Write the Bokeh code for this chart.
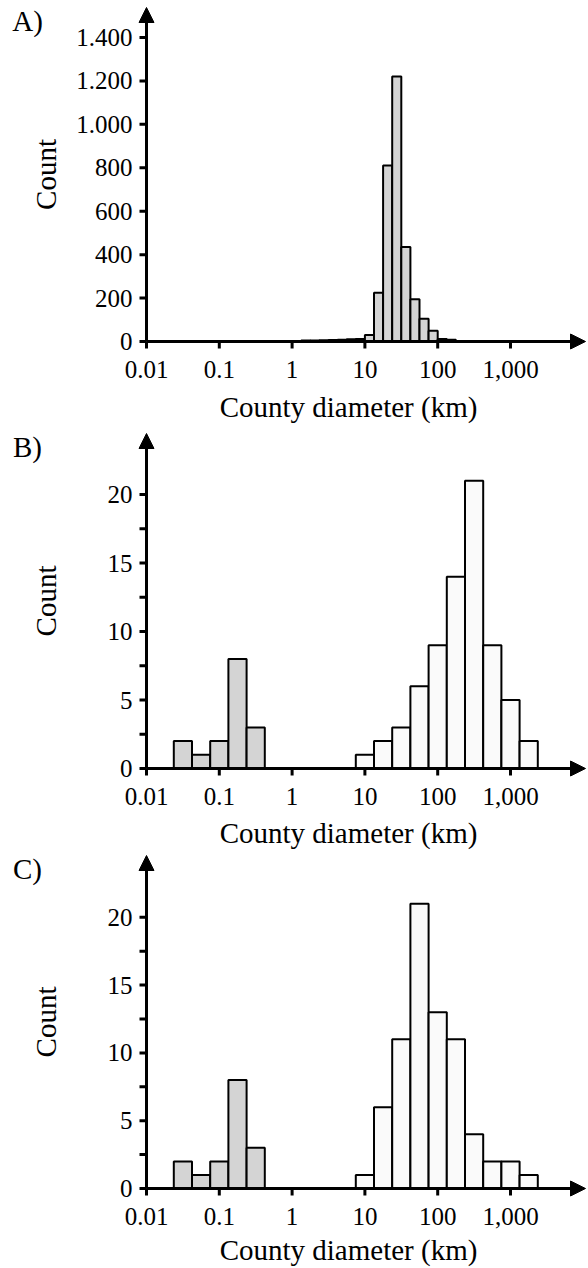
import math
from bokeh.plotting import figure
from bokeh.layouts import column
from bokeh.models import Range1d, Arrow, NormalHead
from bokeh.core.properties import value
from bokeh.embed import file_html
from bokeh.resources import INLINE

# ---------------- data ----------------
# bin edges given as log10(diameter in km)
a_log_edges = [0.125, 0.25, 0.375, 0.5, 0.625, 0.75, 0.875, 1.0, 1.125, 1.25,
               1.375, 1.5, 1.625, 1.75, 1.875, 2.0, 2.125, 2.25]
a_counts = [5, 5, 6, 7, 8, 10, 12, 30, 225, 810, 1220, 435, 195, 105, 50, 12, 8]

b_small_log_edges = [-1.625, -1.375, -1.125, -0.875, -0.625, -0.375]
b_small_counts = [2, 1, 2, 8, 3]
b_large_log_edges = [0.875, 1.125, 1.375, 1.625, 1.875, 2.125, 2.375, 2.625,
                     2.875, 3.125, 3.375]
b_large_counts = [1, 2, 3, 6, 9, 14, 21, 9, 5, 2]

c_small_log_edges = [-1.625, -1.375, -1.125, -0.875, -0.625, -0.375]
c_small_counts = [2, 1, 2, 8, 3]
c_large_log_edges = [0.875, 1.125, 1.375, 1.625, 1.875, 2.125, 2.375, 2.625,
                     2.875, 3.125, 3.375]
c_large_counts = [1, 6, 11, 21, 13, 11, 4, 2, 2, 1]

x_ticks = [0.01, 0.1, 1, 10, 100, 1000]
x_tick_labels = ["0.01", "0.1", "1", "10", "100", "1,000"]
a_y_ticks = [0, 200, 400, 600, 800, 1000, 1200, 1400]
a_y_tick_labels = ["0", "200", "400", "600", "800", "1.000", "1.200", "1.400"]
bc_y_ticks = [0, 5, 10, 15, 20]
bc_y_tick_labels = ["0", "5", "10", "15", "20"]
bc_y_minor = [2.5, 7.5, 12.5, 17.5]

x_title = "County diameter (km)"
y_title = "Count"

# ---------------- style / layout ----------------
GRAY = "#d4d4d4"
WHITE = "#fafafa"
FONT = "Liberation Serif"
W = 588
X0_PX = 146.0     # pixel position of the 0.01 tick (y axis)
DEC_PX = 72.8     # pixels per decade
X_TIP_PX = 585.0  # pixel position of the x arrow tip
X_ORIGIN = 0.01


def make_panel(letter, H, axis_px, tip_px, ppu, y_ticks, y_labels, y_minor,
               bar_sets, title_off):
    x_start = 10 ** (math.log10(X_ORIGIN) - X0_PX / DEC_PX)
    x_end = 10 ** (math.log10(X_ORIGIN) + (W - X0_PX) / DEC_PX)
    x_tip = 10 ** (math.log10(X_ORIGIN) + (X_TIP_PX - X0_PX) / DEC_PX)
    y_start = -(H - axis_px) / ppu
    y_end = axis_px / ppu
    y_tip = (axis_px - tip_px) / ppu

    p = figure(width=W, height=H, x_axis_type="log",
               x_axis_location=None, y_axis_location=None,
               x_range=Range1d(x_start, x_end), y_range=Range1d(y_start, y_end),
               min_border=0, output_backend="svg", toolbar_location=None,
               title=None)
    p.outline_line_color = None
    p.xgrid.visible = False
    p.ygrid.visible = False
    p.background_fill_color = "white"
    p.border_fill_color = "white"

    # bars
    for edges, counts, color in bar_sets:
        lefts = [10 ** e for e in edges[:-1]]
        rights = [10 ** e for e in edges[1:]]
        p.quad(left=lefts, right=rights, bottom=0, top=counts,
               fill_color=color, line_color="black", line_width=2)

    # axis lines with arrow heads
    p.add_layout(Arrow(x_start=X_ORIGIN, y_start=0, x_end=x_tip, y_end=0,
                       line_width=3, line_color="black",
                       end=NormalHead(size=15, fill_color="black",
                                      line_color="black", line_width=1)))
    p.add_layout(Arrow(x_start=X_ORIGIN, y_start=0, x_end=X_ORIGIN, y_end=y_tip,
                       line_width=3, line_color="black",
                       end=NormalHead(size=15, fill_color="black",
                                      line_color="black", line_width=1)))

    # x ticks + labels
    p.ray(x=x_ticks, y=[0] * len(x_ticks), length=7, length_units="screen",
          angle=-math.pi / 2, line_width=3, line_color="black")
    p.text(x=x_ticks, y=[0] * len(x_ticks), text=x_tick_labels,
           y_offset=28, text_align="center", text_baseline="middle",
           text_font=value(FONT), text_font_size=value("25px"),
           text_color="black")

    # y ticks + labels
    all_y = list(y_ticks) + list(y_minor)
    p.ray(x=[X_ORIGIN] * len(all_y), y=all_y, length=7, length_units="screen",
          angle=math.pi, line_width=3, line_color="black")
    p.text(x=[X_ORIGIN] * len(y_ticks), y=y_ticks, text=y_labels,
           x_offset=-14, text_align="right", text_baseline="middle",
           text_font=value(FONT), text_font_size=value("25px"),
           text_color="black")

    # axis titles
    p.text(x=[X_ORIGIN], y=[0], text=[x_title], x_offset=202, y_offset=title_off,
           text_align="center", text_baseline="middle",
           text_font=value(FONT), text_font_size=value("29px"),
           text_color="black")
    p.text(x=[X_ORIGIN], y=[y_tip / 2], text=[y_title], angle=math.pi / 2,
           x_offset=-101, text_align="center", text_baseline="middle",
           text_font=value(FONT), text_font_size=value("29px"),
           text_color="black")

    # panel letter
    p.text(x=[X_ORIGIN], y=[y_tip], text=[letter], x_offset=-119, y_offset=13,
           text_align="center", text_baseline="middle",
           text_font=value(FONT), text_font_size=value("29px"),
           text_color="black")
    return p


pa = make_panel("A)", 425, 341, 7, 304 / 1400, a_y_ticks, a_y_tick_labels, [],
                [(a_log_edges, a_counts, GRAY)], 65)
pb = make_panel("B)", 425, 343, 8, 13.7, bc_y_ticks, bc_y_tick_labels, bc_y_minor,
                [(b_small_log_edges, b_small_counts, GRAY),
                 (b_large_log_edges, b_large_counts, WHITE)], 64)
pc = make_panel("C)", 418, 338, 5, 13.56, bc_y_ticks, bc_y_tick_labels, bc_y_minor,
                [(c_small_log_edges, c_small_counts, GRAY),
                 (c_large_log_edges, c_large_counts, WHITE)], 61)

layout = column(pa, pb, pc, spacing=0)
open("out.html", "w").write(file_html(layout, INLINE))
